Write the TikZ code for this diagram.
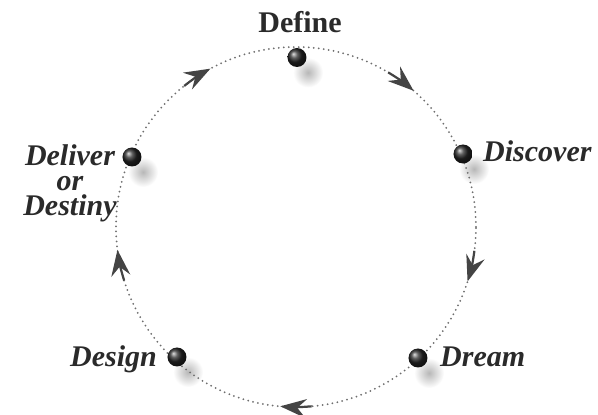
\documentclass[tikz,border=0pt]{standalone}
\usepackage{fontspec}
\setmainfont{Liberation Serif}
\usetikzlibrary{arrows.meta,backgrounds,calc}
\definecolor{txt}{HTML}{2A2A2A}
\definecolor{dotc}{HTML}{6E6E6E}
\definecolor{arrc}{HTML}{444444}
\tikzset{
  dotline/.style={dotc, line width=2pt, line cap=round, dash pattern=on 0pt off 5pt},
  arrowseg/.style={arrc, line width=2.2pt, -{Stealth[length=26pt,width=19pt,inset=9pt]}},
  ballnode/.style={circle, minimum size=19pt, inner sep=0pt, shading=ball, ball color=black!85},
  blob/.style={inner color=black!28, outer color=white},
  lbl/.style={text=txt, inner sep=0pt, font=\fontsize{30}{25}\selectfont\bfseries\itshape},
}
\begin{document}
\begin{tikzpicture}[x=1pt,y=1pt]
\useasboundingbox (-296,-188) rectangle (302,227);
\coordinate (c) at (0,0);
% dotted cycle
\draw[dotline] (c) circle[radius=180];
% arrows along the cycle (clockwise)
\foreach \a in {49.2,-17.6,-95,187.3,118.4}{
  \draw[arrowseg] ($(c)+(\a+10:180)$) arc[start angle=\a+10, end angle=\a, radius=180];
}
% balls
\node[ballnode] (define)   at (1,169.5) {};
\node[ballnode] (discover) at (167,73) {};
\node[ballnode] (dream)    at (122,-131) {};
\node[ballnode] (design)   at (-119,-130) {};
\node[ballnode] (deliver)  at (-164,70) {};
% soft shadows
\begin{pgfonlayer}{background}
\fill[white] (-296,-188) rectangle (302,227);
\foreach \n in {define,discover,dream,design,deliver}{
  \shade[blob] ([shift={(11,-15)}]\n.center) circle[radius=15];
}
\end{pgfonlayer}
% labels
\node[lbl, font=\fontsize{30}{25}\selectfont\bfseries, anchor=base] (tdefine) at (4,194) {Define};
\node[lbl, anchor=base west] (tdiscover) at (187,65) {Discover};
\node[lbl, anchor=base west] (tdream) at (144,-140) {Dream};
\node[lbl, anchor=base east] (tdesign) at (-139,-140) {Design};
\node[lbl, align=center] (tdeliver) at (-226,44) {Deliver\\or\\Destiny};
\end{tikzpicture}
\end{document}
